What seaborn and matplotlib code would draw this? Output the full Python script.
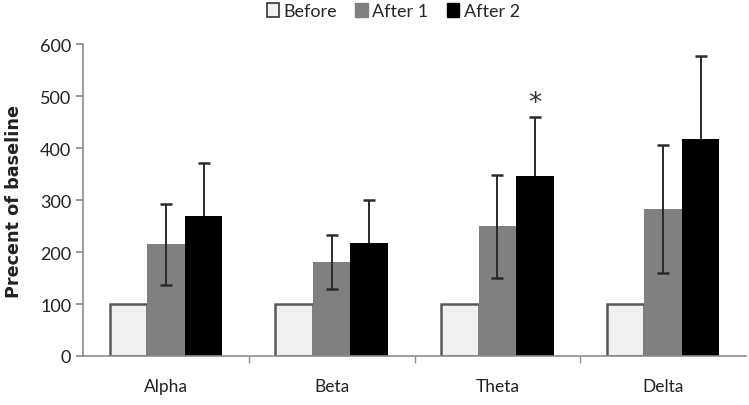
import matplotlib
matplotlib.use("Agg")
import matplotlib.pyplot as plt
import seaborn as sns
import pandas as pd
import numpy as np
from matplotlib.patches import Patch

categories = ["Alpha", "Beta", "Theta", "Delta"]
groups = ["Before", "After 1", "After 2"]
before = [100, 100, 100, 100]
after1 = [215, 180, 250, 283]
after2 = [269, 218, 347, 418]
err_after1 = [78, 52, 99, 123]
err_after2 = [102, 82, 113, 160]
colors = ["#f0f0f0", "#808080", "#000000"]

sns.set_theme(style="white")
plt.rcParams['font.family'] = ['Lato', 'DejaVu Sans']

rows = []
for i, c in enumerate(categories):
    rows.append((c, "Before", before[i], 0))
    rows.append((c, "After 1", after1[i], err_after1[i]))
    rows.append((c, "After 2", after2[i], err_after2[i]))
df = pd.DataFrame(rows, columns=["band", "group", "value", "err"])

fig = plt.figure(figsize=(7.49, 4.06), dpi=100)
ax = fig.add_axes([0.111, 0.1207, 0.885, 0.768])
sns.barplot(data=df, x="band", y="value", hue="group", order=categories,
            hue_order=groups, palette=colors, width=0.68, saturation=1,
            errorbar=None, ax=ax, legend=False, linewidth=0)

patches = ax.patches
n = len(categories)
for gi, g in enumerate(groups):
    for ci in range(n):
        p = patches[gi * n + ci]
        p.set_zorder(2)
        if g == "Before":
            p.set_edgecolor("#595959")
            p.set_linewidth(1.8)
        sub = df[(df.band == categories[ci]) & (df.group == g)].iloc[0]
        xc = p.get_x() + p.get_width() / 2
        if g == "After 1":
            ax.errorbar(xc, sub.value, yerr=sub.err, fmt="none", ecolor="#2a2a2a",
                        elinewidth=1.4, capsize=4, capthick=1.8, zorder=3)
        elif g == "After 2":
            ax.errorbar(xc, sub.value, yerr=sub.err, fmt="none", ecolor="#2a2a2a",
                        elinewidth=1.4, capsize=4, capthick=1.8, zorder=1)
        if categories[ci] == "Theta" and g == "After 2":
            ax.text(xc, sub.value + sub.err + 2, "*", ha="center", va="bottom",
                    fontsize=19, color="#333333", family="DejaVu Sans")

ax.set_ylim(0, 600)
ax.set_xlim(-0.5, 3.5)
ax.set_yticks(range(0, 601, 100))
ax.set_xlabel("")
ax.set_ylabel("Precent of baseline", fontsize=12.7, fontweight="bold", color="#222222",
              family="DejaVu Sans", labelpad=12)
ax.tick_params(axis="y", labelsize=13, left=True, length=5, color="#8c8c8c", labelcolor="#222222")
ax.tick_params(axis="x", labelsize=12.5, bottom=False, labelcolor="#222222", pad=10)
ax.set_xticks([0.5, 1.5, 2.5], minor=True)
ax.tick_params(axis="x", which="minor", bottom=True, length=5, color="#8c8c8c", direction="out")
for s in ["top", "right"]:
    ax.spines[s].set_visible(False)
for s in ["left", "bottom"]:
    ax.spines[s].set_color("#8c8c8c")
    ax.spines[s].set_linewidth(1.2)

handles = [Patch(facecolor=colors[0], edgecolor="#333333", linewidth=1.2),
           Patch(facecolor=colors[1], edgecolor=colors[1]),
           Patch(facecolor=colors[2], edgecolor=colors[2])]
fig.legend(handles, groups, loc="upper center", bbox_to_anchor=(0.525, 1.03), ncol=3,
           frameon=False, fontsize=13, handlelength=0.7, handleheight=0.8,
           handletextpad=0.25, columnspacing=1.0)

fig.savefig("out.png", dpi=100)
